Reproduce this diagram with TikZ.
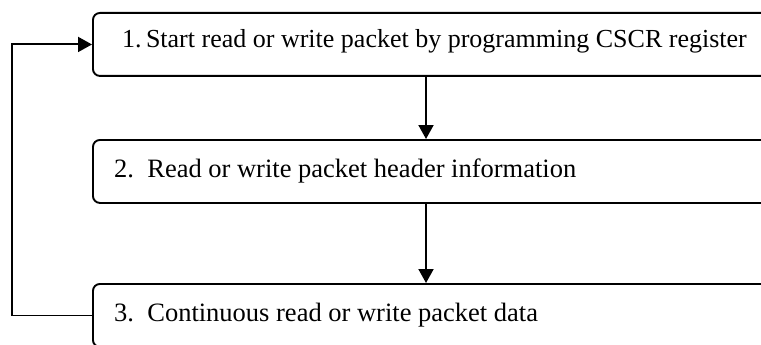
\documentclass[tikz,border=0pt]{standalone}
\usepackage{fontspec}
\setmainfont{Liberation Serif}
\usetikzlibrary{arrows.meta}
\begin{document}
\begin{tikzpicture}[x=1pt,y=-1pt,
  stepbox/.style={draw=black, line width=1.9pt, rounded corners=7pt,
    minimum width=684pt, minimum height=63pt, anchor=north west, inner sep=0pt},
  steptext/.style={anchor=base west, inner sep=0pt,
    font=\fontsize{26.5pt}{31pt}\selectfont},
  flow/.style={draw=black, line width=1.9pt,
    -{Triangle[length=14pt,width=15pt]}}]
  \useasboundingbox (0,0) rectangle (761,345);
  % the three steps
  \node[stepbox] (b1) at (92,12) {};
  \node[stepbox] (b2) at (92,139) {};
  \node[stepbox] (b3) at (92,283) {};
  \node[steptext, font=\fontsize{26pt}{31pt}\selectfont] (t1) at (122,48)
    {1.\,Start read or write packet by programming CSCR register};
  \node[steptext] (t2) at (114,177) {2.\ \ Read or write packet header information};
  \node[steptext] (t3) at (114,321) {3.\ \ Continuous read or write packet data};
  % connectors
  \coordinate (ax) at (426,0);
  \draw[flow] (b1.south -| ax) -- (b2.north -| ax);
  \draw[flow] (b2.south -| ax) -- (b3.north -| ax);
  \draw[flow] (b3.west) -- ++(-80,0) |- (b1.west);
\end{tikzpicture}
\end{document}
